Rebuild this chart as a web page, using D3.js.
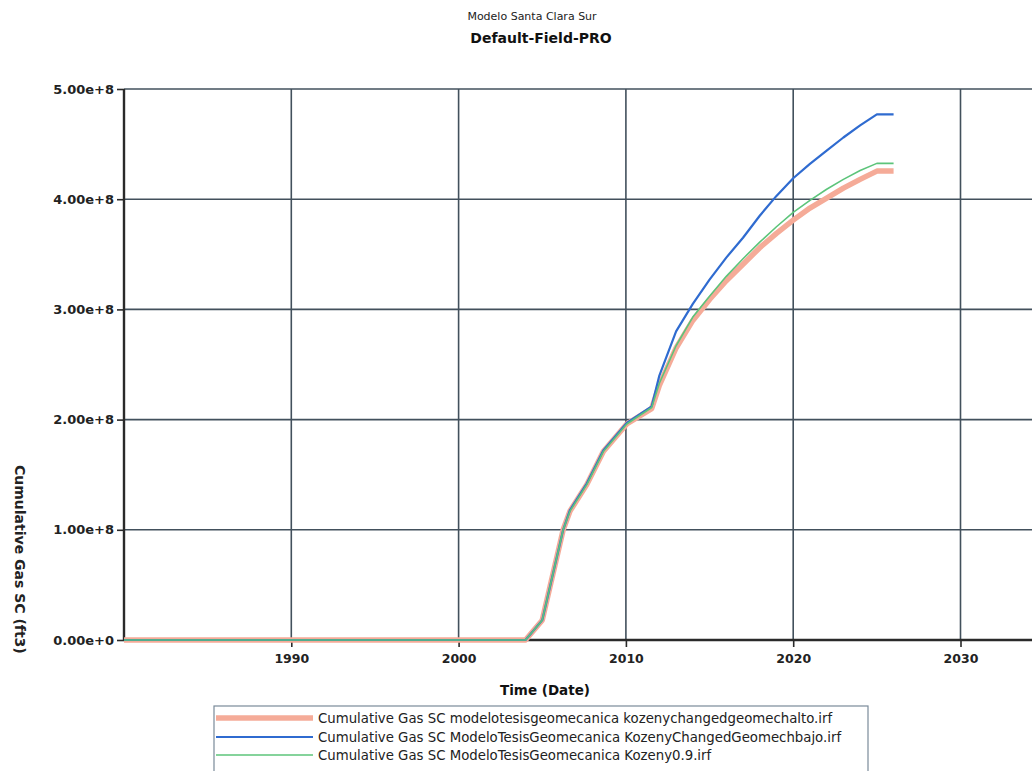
<!DOCTYPE html>
<html>
<head>
<meta charset="utf-8">
<script src="https://cdn.jsdelivr.net/npm/d3@7"></script>
<style>
  html, body { margin: 0; padding: 0; background: #fff; }
  svg { display: block; font-family: "DejaVu Sans", Verdana, sans-serif; }
</style>
</head>
<body>
<svg id="chart" width="1032" height="771"></svg>
<script>
// Cumulative gas production, three geomechanics cases (decimal years, scf)
const years = [1980, 2004.0, 2005.0, 2006.25, 2006.66, 2007.66, 2008.65, 2010.05, 2011.54,
  2012, 2013, 2014, 2015, 2016, 2017, 2018, 2019, 2020, 2021, 2022, 2023, 2024, 2025, 2026];

const gasAlto = [0, 0, 1.8e7, 1.0e8, 1.17e8, 1.41e8, 1.71e8, 1.96e8, 2.10e8,
  2.31e8, 2.65e8, 2.90e8, 3.09e8, 3.26e8, 3.41e8, 3.56e8, 3.69e8, 3.81e8, 3.92e8, 4.01e8, 4.10e8, 4.18e8, 4.255e8, 4.255e8];
const gasBajo = [0, 0, 1.8e7, 1.0e8, 1.18e8, 1.42e8, 1.72e8, 1.97e8, 2.12e8,
  2.40e8, 2.80e8, 3.05e8, 3.27e8, 3.47e8, 3.65e8, 3.85e8, 4.03e8, 4.19e8, 4.32e8, 4.44e8, 4.56e8, 4.67e8, 4.77e8, 4.77e8];
const gasKozeny = [0, 0, 1.8e7, 1.0e8, 1.17e8, 1.41e8, 1.71e8, 1.96e8, 2.11e8,
  2.33e8, 2.67e8, 2.93e8, 3.12e8, 3.30e8, 3.46e8, 3.61e8, 3.75e8, 3.88e8, 3.99e8, 4.09e8, 4.18e8, 4.26e8, 4.325e8, 4.325e8];

const seriesNames = [
  "Cumulative Gas SC modelotesisgeomecanica kozenychangedgeomechalto.irf",
  "Cumulative Gas SC ModeloTesisGeomecanica KozenyChangedGeomechbajo.irf",
  "Cumulative Gas SC ModeloTesisGeomecanica Kozeny0.9.irf"
];
const seriesColors = ["#f5ab98", "#2f6bd0", "#5cc47a"];
const seriesWidths = [5.5, 2.2, 1.6];

const xTicks = [1990, 2000, 2010, 2020, 2030];
const yTicks = [0, 1e8, 2e8, 3e8, 4e8, 5e8];

const titleText = "Modelo Santa Clara Sur";
const subtitleText = "Default-Field-PRO";
const xLabel = "Time (Date)";
const yLabel = "Cumulative Gas SC (ft3)";

const svg = d3.select("#chart");
const plotLeft = 124, plotTop = 89, plotBottom = 640, plotRight = 1032;

const x = d3.scaleLinear().domain([1980, 2036]).range([plotLeft, plotLeft + 56 * 16.73]);
const y = d3.scaleLinear().domain([0, 5e8]).range([plotBottom, plotTop]);

const gridColor = "#42505c";
const axisColor = "#2a2a2a";
const font = "DejaVu Sans, Verdana, sans-serif";

// grid
const grid = svg.append("g");
grid.selectAll("line.v").data(xTicks).join("line")
  .attr("x1", d => x(d)).attr("x2", d => x(d))
  .attr("y1", plotTop).attr("y2", plotBottom)
  .attr("stroke", gridColor).attr("stroke-width", 1.6);
grid.selectAll("line.h").data(yTicks.filter(d => d > 0)).join("line")
  .attr("x1", plotLeft).attr("x2", plotRight)
  .attr("y1", d => y(d)).attr("y2", d => y(d))
  .attr("stroke", gridColor).attr("stroke-width", 1.6);

// axes
const yAxis = d3.axisLeft(y).tickValues(yTicks).tickFormat(d3.format(".2e")).tickSize(7).tickPadding(3);
const gy = svg.append("g").attr("transform", `translate(${plotLeft},0)`).call(yAxis);
gy.select(".domain").remove();
gy.selectAll(".tick line").attr("stroke", axisColor).attr("stroke-width", 1.6);
gy.selectAll(".tick text").attr("font-size", 13).attr("font-weight", "bold").attr("fill", "#222")
  .attr("font-family", font);

const xAxis = d3.axisBottom(x).tickValues(xTicks).tickFormat(d3.format("d")).tickSize(7).tickPadding(7);
const gx = svg.append("g").attr("transform", `translate(0,${plotBottom})`).call(xAxis);
gx.select(".domain").remove();
gx.selectAll(".tick line").attr("stroke", axisColor).attr("stroke-width", 1.6);
gx.selectAll(".tick text").attr("font-size", 12.5).attr("font-weight", "bold").attr("fill", "#222")
  .attr("font-family", font);

svg.append("line").attr("x1", plotLeft).attr("x2", plotRight).attr("y1", plotBottom).attr("y2", plotBottom)
  .attr("stroke", axisColor).attr("stroke-width", 2.4);
svg.append("line").attr("x1", plotLeft).attr("x2", plotLeft).attr("y1", plotTop).attr("y2", plotBottom + 1)
  .attr("stroke", axisColor).attr("stroke-width", 2.4);

// series
const seriesData = [gasAlto, gasBajo, gasKozeny];
const line = d3.line().x(d => x(d[0])).y(d => y(d[1]));
seriesData.forEach((vals, i) => {
  svg.append("path")
    .datum(years.map((yr, j) => [yr, vals[j]]))
    .attr("d", line)
    .attr("fill", "none")
    .attr("stroke", seriesColors[i])
    .attr("stroke-width", seriesWidths[i])
    .attr("stroke-linejoin", "round");
});

// titles
svg.append("text").attr("x", 532).attr("y", 20).attr("text-anchor", "middle")
  .attr("font-size", 11).attr("fill", "#222").text(titleText);
svg.append("text").attr("x", 541).attr("y", 43).attr("text-anchor", "middle")
  .attr("font-size", 14).attr("font-weight", "bold").attr("fill", "#111").text(subtitleText);

svg.append("text").attr("x", 545).attr("y", 695).attr("text-anchor", "middle")
  .attr("font-size", 13.5).attr("font-weight", "bold").attr("fill", "#111").text(xLabel);

svg.append("text").attr("transform", "translate(15,465) rotate(90)")
  .attr("font-size", 14).attr("font-weight", "bold").attr("fill", "#222").text(yLabel);

// legend
const lg = svg.append("g");
lg.append("rect").attr("x", 214).attr("y", 706).attr("width", 654).attr("height", 70)
  .attr("fill", "#fff").attr("stroke", "#7a8a99").attr("stroke-width", 1.2);
const rowY = [718, 737, 755];
seriesNames.forEach((name, i) => {
  lg.append("line").attr("x1", 216).attr("x2", 313).attr("y1", rowY[i]).attr("y2", rowY[i])
    .attr("stroke", seriesColors[i]).attr("stroke-width", seriesWidths[i]);
  lg.append("text").attr("x", 318).attr("y", rowY[i] + 4.5)
    .attr("font-size", 13.3).attr("fill", "#222").text(name);
});
</script>
</body>
</html>
